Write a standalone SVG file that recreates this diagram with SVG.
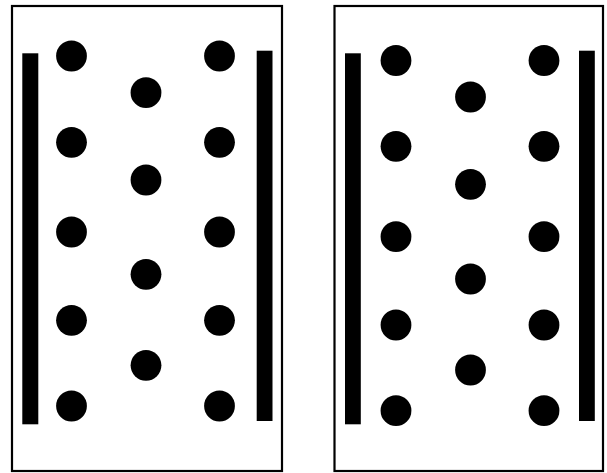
<svg xmlns="http://www.w3.org/2000/svg" width="607" height="473" viewBox="0 0 607 473">
<style>
.frame{fill:#fff;stroke:#000;stroke-width:2.2}
.bar{fill:#000}
.dot{fill:#000}
</style>
<rect width="607" height="473" fill="#fff"/>
<g id="panel-left">
<rect class="frame" x="12" y="6" width="270" height="465"/>
<rect class="bar" x="22.3" y="53.3" width="16" height="371"/>
<rect class="bar" x="256.7" y="50.7" width="15.8" height="370.3"/>
<g id="dots-left">
<circle class="dot" cx="71.5" cy="56" r="15.4"/>
<circle class="dot" cx="71.5" cy="142.3" r="15.4"/>
<circle class="dot" cx="71.5" cy="232" r="15.4"/>
<circle class="dot" cx="71.5" cy="320.3" r="15.4"/>
<circle class="dot" cx="71.5" cy="406" r="15.4"/>
<circle class="dot" cx="146" cy="92.7" r="15.4"/>
<circle class="dot" cx="146" cy="180" r="15.4"/>
<circle class="dot" cx="146" cy="274.3" r="15.4"/>
<circle class="dot" cx="146" cy="365.3" r="15.4"/>
<circle class="dot" cx="219.5" cy="56" r="15.4"/>
<circle class="dot" cx="219.5" cy="142.3" r="15.4"/>
<circle class="dot" cx="219.5" cy="232" r="15.4"/>
<circle class="dot" cx="219.5" cy="320.3" r="15.4"/>
<circle class="dot" cx="219.5" cy="406" r="15.4"/>
</g>
</g>
<g id="panel-right">
<rect class="frame" x="334.5" y="6" width="268.5" height="465"/>
<rect class="bar" x="345" y="53.3" width="15.8" height="371"/>
<rect class="bar" x="579" y="50.7" width="15.8" height="370.3"/>
<g id="dots-right">
<circle class="dot" cx="396" cy="60.5" r="15.4"/>
<circle class="dot" cx="396" cy="146.3" r="15.4"/>
<circle class="dot" cx="396" cy="236.7" r="15.4"/>
<circle class="dot" cx="396" cy="325" r="15.4"/>
<circle class="dot" cx="396" cy="410.7" r="15.4"/>
<circle class="dot" cx="470.5" cy="97" r="15.4"/>
<circle class="dot" cx="470.5" cy="184.3" r="15.4"/>
<circle class="dot" cx="470.5" cy="279" r="15.4"/>
<circle class="dot" cx="470.5" cy="370" r="15.4"/>
<circle class="dot" cx="544" cy="60.5" r="15.4"/>
<circle class="dot" cx="544" cy="146.3" r="15.4"/>
<circle class="dot" cx="544" cy="236.7" r="15.4"/>
<circle class="dot" cx="544" cy="325" r="15.4"/>
<circle class="dot" cx="544" cy="410.7" r="15.4"/>
</g>
</g>
<g id="connectors"></g>
</svg>
